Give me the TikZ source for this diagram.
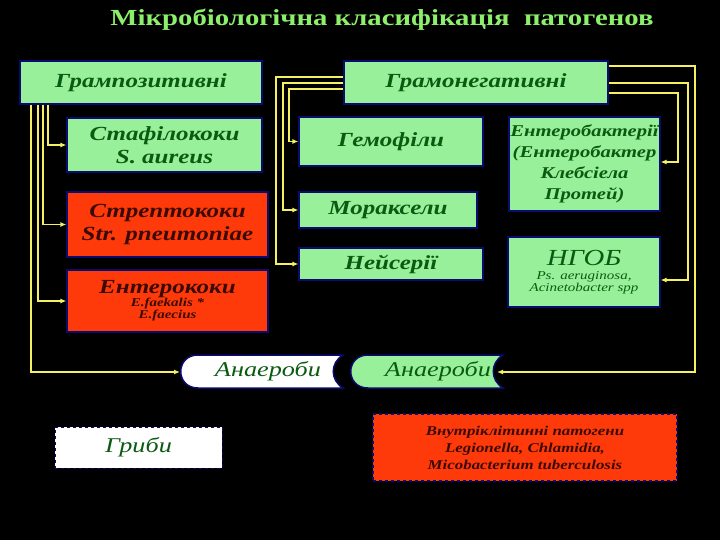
\documentclass[tikz,border=0pt]{standalone}
\usepackage{fontspec}
\setmainfont{Liberation Serif}[FakeStretch=1.25]
\usetikzlibrary{arrows.meta}
\definecolor{gbox}{HTML}{99F09A}
\definecolor{rbox}{HTML}{FF3A0A}
\definecolor{gtxt}{HTML}{0B5A12}
\definecolor{rtxt}{HTML}{3A0A05}
\definecolor{navy}{HTML}{0A0A70}
\definecolor{ttl}{HTML}{8CF06A}
\definecolor{yel}{HTML}{F5F060}
\tikzset{
 box/.style={draw=navy,line width=1.2pt,inner sep=0pt,align=center,font=\bfseries\itshape,text=gtxt},
 gb/.style={box,fill=gbox},
 rb/.style={box,fill=rbox,text=rtxt},
 con/.style={draw=yel,line width=1.4pt,-{Latex[length=6pt,width=5pt]}},
}
\begin{document}
\begin{tikzpicture}[x=1pt,y=-1pt]
\fill[black] (0,0) rectangle (720,540);
\useasboundingbox (0,0) rectangle (720,540);
\node[font=\bfseries\fontsize{23}{26}\selectfont,text=ttl] (title) at (382,20) {Мікробіологічна класифікація\ \ патогенов};
\node[gb,minimum width=242,minimum height=43,font=\bfseries\itshape\fontsize{20}{22}\selectfont] (gp) at (141,82.5) {Грампозитивні};
\node[gb,minimum width=264,minimum height=43,font=\bfseries\itshape\fontsize{20}{22}\selectfont] (gn) at (476,82.5) {Грамонегативні};
\node[gb,minimum width=195,minimum height=54,font=\bfseries\itshape\fontsize{20}{23}\selectfont] (st) at (164.5,145) {Стафілококи\\S. aureus};
\node[rb,minimum width=201,minimum height=65,font=\bfseries\itshape\fontsize{20}{23}\selectfont] (sr) at (167.5,224.5) {Стрептококи\\Str. pneumoniae};
\node[rb,minimum width=201,minimum height=62] (en) at (167.5,301) {\fontsize{20}{21}\selectfont Ентерококи\\[-1pt]\fontsize{12}{14}\selectfont E.faekalis *\\\fontsize{12}{14}\selectfont E.faecius};
\node[gb,minimum width=184,minimum height=49,font=\bfseries\itshape\fontsize{20}{22}\selectfont] (hm) at (391,141.5) {Гемофіли};
\node[gb,minimum width=178,minimum height=36,font=\bfseries\itshape\fontsize{20}{22}\selectfont] (mr) at (388,210) {Мораксели};
\node[gb,minimum width=184,minimum height=32,font=\bfseries\itshape\fontsize{20}{22}\selectfont] (ns) at (391,264) {Нейсерії};
\node[gb,text width=151,minimum height=94,font=\bfseries\itshape\fontsize{16.5}{21}\selectfont] (eb) at (584.5,164) {Ентеробактерії\\(Ентеробактер\\Клебсіела\\Протей)};
\node[gb,minimum width=152,minimum height=70,font=\itshape] (ng) at (584,272) {\fontsize{23}{25}\selectfont НГОБ\\[2pt]\fontsize{12}{16}\selectfont Ps. aeruginosa,\\\fontsize{12}{16}\selectfont Acinetobacter spp};
% anaerobes
\path[fill=white,draw=navy,line width=1.5pt] (343,355) -- (198,355) .. controls (175,355) and (175,388) .. (198,388) -- (343,388) .. controls (330,380) and (330,363) .. (343,355) -- cycle;
\path[fill=gbox,draw=navy,line width=1.5pt] (503,355) -- (368,355) .. controls (345,355) and (345,388) .. (368,388) -- (503,388) .. controls (490,380) and (490,363) .. (503,355) -- cycle;
\node[font=\itshape\fontsize{21}{22}\selectfont,text=gtxt] (an1) at (268,371.5) {Анаероби};
\node[font=\itshape\fontsize{21}{22}\selectfont,text=gtxt] (an2) at (438,371.5) {Анаероби};
\coordinate (a1) at (180,372);
\coordinate (a2) at (497,372);
\node[draw=navy,dashed,fill=white,minimum width=167,minimum height=41,inner sep=0pt,font=\itshape\fontsize{21}{22}\selectfont,text=gtxt] (gr) at (138.5,447.5) {Гриби};
\node[rb,dashed,minimum width=304,minimum height=67,font=\bfseries\itshape\fontsize{13.5}{17}\selectfont] (ic) at (525,447.5) {Внутріклітинні патогени\\Legionella, Chlamidia,\\Micobacterium tuberculosis};
% connectors
\draw[con] (gp.south -| 48,0) |- (st.west);
\draw[con] (gp.south -| 43,0) |- (sr.west);
\draw[con] (gp.south -| 38,0) |- (en.west);
\draw[con] (gp.south -| 31,0) |- (a1);
\draw[con] (gn.west |- 0,89) -| (289,120) |- (hm.west);
\draw[con] (gn.west |- 0,83) -| (283,150) |- (mr.west);
\draw[con] (gn.west |- 0,77) -| (276,200) |- (ns.west);
\draw[con] (gn.east |- 0,93) -| (678,140) |- (eb.east |- 0,162);
\draw[con] (gn.east |- 0,83) -| (688,200) |- (ng.east |- 0,280);
\draw[con] (gn.east |- 0,66) -| (695,300) |- (a2);
\end{tikzpicture}
\end{document}
